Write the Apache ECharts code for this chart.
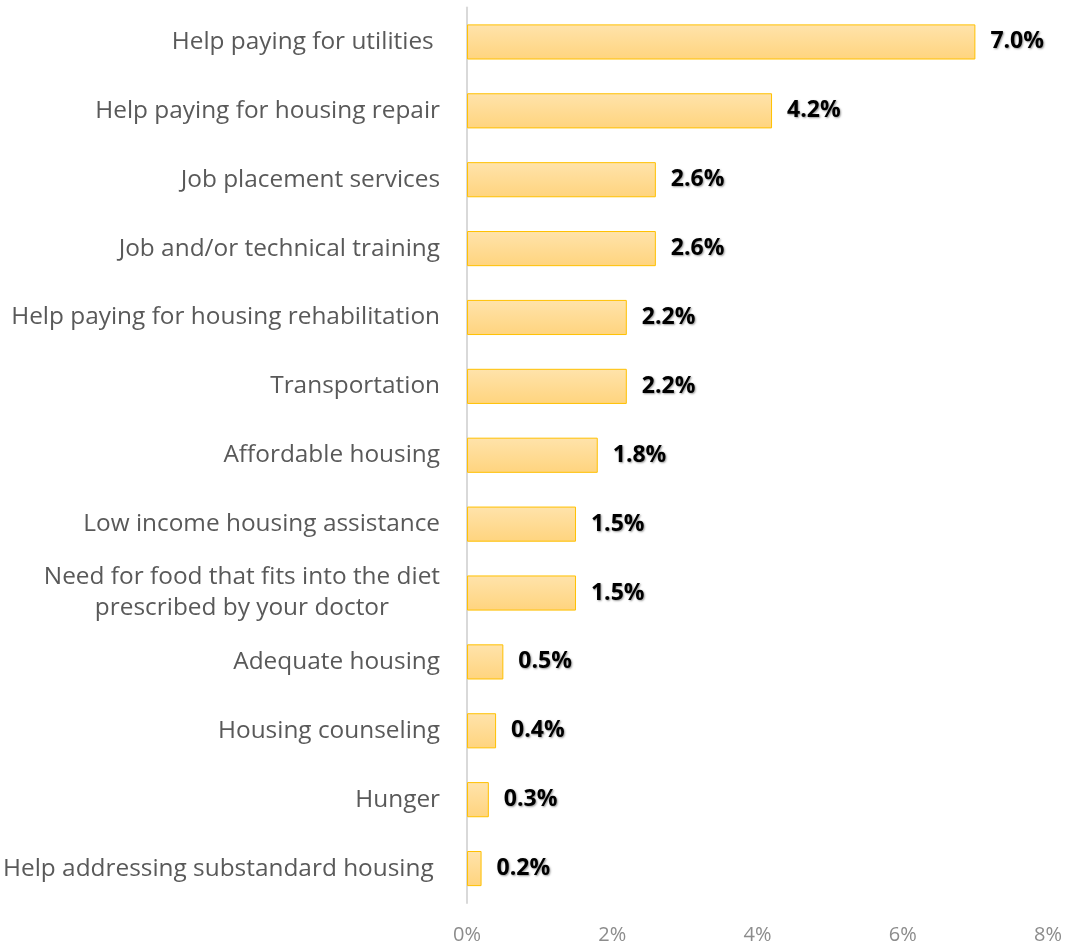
<!DOCTYPE html>
<html>
<head>
<meta charset="utf-8">
<script src="https://cdn.jsdelivr.net/npm/echarts@6/dist/echarts.min.js"></script>
<style>
  html, body { margin: 0; padding: 0; background: #fff; }
  #chart { width: 1068px; height: 945px; }
</style>
</head>
<body>
<div id="chart"></div>
<script>
// Needs listed top to bottom
const categories = [
  'Help paying for utilities ',
  'Help paying for housing repair',
  'Job placement services',
  'Job and/or technical training',
  'Help paying for housing rehabilitation',
  'Transportation',
  'Affordable housing',
  'Low income housing assistance',
  'Need for food that fits into the diet\nprescribed by your doctor',
  'Adequate housing',
  'Housing counseling',
  'Hunger',
  'Help addressing substandard housing '
];
// Share of respondents, percent
const values = [7.0, 4.2, 2.6, 2.6, 2.2, 2.2, 1.8, 1.5, 1.5, 0.5, 0.4, 0.3, 0.2];
const tickLabels = ['0%', '2%', '4%', '6%', '8%'];

const chart = echarts.init(document.getElementById('chart'));
chart.setOption({
  animation: false,
  backgroundColor: '#ffffff',
  grid: { left: 467, right: 20, top: 7.5, bottom: 41.5, containLabel: false },
  xAxis: {
    type: 'value',
    min: 0, max: 8, interval: 2,
    axisLine: { show: false },
    axisTick: { show: false },
    splitLine: { show: false },
    axisLabel: {
      margin: 22,
      color: '#8c8c8c',
      fontFamily: 'Open Sans',
      fontSize: 20,
      formatter: v => tickLabels[Math.round(v / 2)]
    }
  },
  yAxis: {
    type: 'category',
    inverse: true,
    data: categories,
    axisLine: { show: true, lineStyle: { color: '#d9d9d9', width: 2 } },
    axisTick: { show: false },
    axisLabel: {
      margin: 27,
      color: '#595959',
      fontFamily: 'Open Sans',
      fontSize: 24.4,
      lineHeight: 31,
      formatter: v => v.split('\n').map(l => '{c|' + l + '}').join('\n'),
      rich: { c: { align: 'center', color: '#595959', fontFamily: 'Open Sans', fontSize: 24.4, lineHeight: 31 } }
    }
  },
  series: [{
    type: 'bar',
    data: values,
    barCategoryGap: '49%',
    itemStyle: {
      color: new echarts.graphic.LinearGradient(0, 0, 0, 1, [
        { offset: 0, color: '#ffe3ab' },
        { offset: 1, color: '#ffd47e' }
      ]),
      borderColor: '#ffc000',
      borderWidth: 1
    },
    label: {
      show: true,
      position: 'right',
      distance: 15,
      color: '#000000',
      fontFamily: 'Open Sans',
      fontWeight: 'bold',
      fontSize: 23,
      textShadowColor: 'rgba(0,0,0,0.4)',
      textShadowBlur: 2,
      textShadowOffsetX: 1,
      textShadowOffsetY: 1,
      formatter: p => p.value.toFixed(1) + '%'
    }
  }]
});
</script>
</body>
</html>
